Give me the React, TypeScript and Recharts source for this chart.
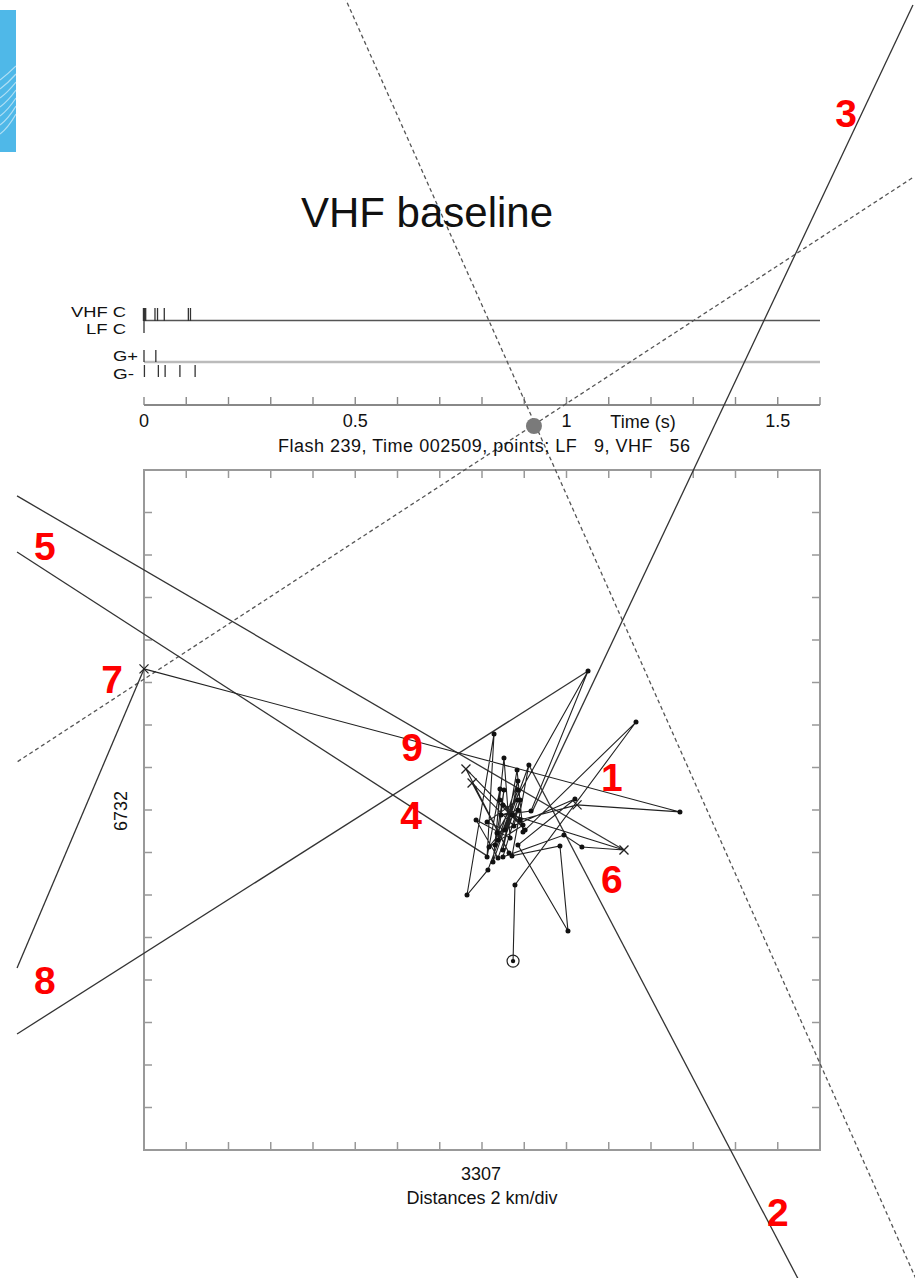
import React from 'react';
import { ComposedChart, XAxis, YAxis, Line, Scatter, ReferenceLine, ReferenceArea } from 'recharts';

// ---------------- data ----------------
// Time panel (seconds after flash start)
const vhfTimes = [0, 0.002, 0.004, 0.026, 0.032, 0.048, 0.105, 0.11];
const lfTimes = [0];
const gPlusTimes = [0, 0.028];
const gMinusTimes = [0.001, 0.034, 0.05, 0.085, 0.121];
const timeTickValues = [0, 0.1, 0.2, 0.3, 0.4, 0.5, 0.6, 0.7, 0.8, 0.9, 1, 1.1, 1.2, 1.3, 1.4, 1.5, 1.6];
const timeLabelValues = [0, 0.5, 1, 1.5];
const timeLabelTexts = ['0', '0.5', '1', '1.5'];

// Map panel: km from centre (3307 E / 6732 N), 2 km per division
const mapTickValues = [-14, -12, -10, -8, -6, -4, -2, 0, 2, 4, 6, 8, 10, 12, 14];

// Located sources in time order (VHF dots, LF crosses)
const sources = [
  { x: 1.47, y: -7.11, kind: 'VHF' },
  { x: 1.56, y: -3.53, kind: 'VHF' },
  { x: 7.29, y: 4.14, kind: 'VHF' },
  { x: 1.94, y: -1.04, kind: 'VHF' },
  { x: 1.66, y: 1.88, kind: 'VHF' },
  { x: 0.99, y: -1.88, kind: 'VHF' },
  { x: 1.7, y: 1.36, kind: 'VHF' },
  { x: 0.76, y: -1.41, kind: 'VHF' },
  { x: 1.04, y: 0.94, kind: 'VHF' },
  { x: 0.62, y: -1.65, kind: 'VHF' },
  { x: 0.85, y: 0.99, kind: 'VHF' },
  { x: 0.24, y: -2.21, kind: 'VHF' },
  { x: 0.57, y: 3.58, kind: 'VHF' },
  { x: -0.71, y: -4.0, kind: 'VHF' },
  { x: 0.28, y: -2.82, kind: 'VHF' },
  { x: 1.7, y: 0.94, kind: 'VHF' },
  { x: 0.52, y: -2.45, kind: 'VHF' },
  { x: 1.04, y: 2.45, kind: 'VHF' },
  { x: 1.33, y: -1.32, kind: 'VHF' },
  { x: -0.28, y: -0.47, kind: 'VHF' },
  { x: 0.76, y: -2.26, kind: 'VHF' },
  { x: 1.7, y: 0.47, kind: 'VHF' },
  { x: 0.24, y: -0.56, kind: 'VHF' },
  { x: 1.09, y: -0.94, kind: 'VHF' },
  { x: 2.22, y: 2.12, kind: 'VHF' },
  { x: 1.42, y: -2.16, kind: 'VHF' },
  { x: 3.69, y: -1.69, kind: 'VHF' },
  { x: 4.07, y: -5.69, kind: 'VHF' },
  { x: 1.7, y: -1.65, kind: 'VHF' },
  { x: 4.4, y: 0.52, kind: 'VHF' },
  { x: 0.71, y: -1.08, kind: 'VHF' },
  { x: 5.02, y: 6.54, kind: 'VHF' },
  { x: 2.32, y: -0.05, kind: 'VHF' },
  { x: 0.9, y: -0.24, kind: 'VHF' },
  { x: 1.7, y: 0.0, kind: 'VHF' },
  { x: 0.33, y: -1.74, kind: 'VHF' },
  { x: 1.94, y: -0.71, kind: 'VHF' },
  { x: 0.99, y: 0.24, kind: 'VHF' },
  { x: 2.04, y: -0.94, kind: 'VHF' },
  { x: -0.76, y: 1.93, kind: 'LF' },
  { x: 1.28, y: -2.02, kind: 'VHF' },
  { x: -0.47, y: 1.27, kind: 'LF' },
  { x: 1.51, y: -0.75, kind: 'VHF' },
  { x: 1.8, y: 0.47, kind: 'VHF' },
  { x: 0.99, y: -2.21, kind: 'VHF' },
  { x: 3.88, y: -1.18, kind: 'VHF' },
  { x: 4.73, y: -1.74, kind: 'VHF' },
  { x: 6.72, y: -1.88, kind: 'LF' },
  { x: 1.42, y: -0.24, kind: 'VHF' },
  { x: 0.85, y: 0.47, kind: 'VHF' },
  { x: 1.8, y: -0.47, kind: 'VHF' },
  { x: 4.5, y: 0.24, kind: 'LF' },
  { x: 9.37, y: -0.09, kind: 'VHF' },
  { x: -16.0, y: 6.64, kind: 'LF' },
];

// Station bearing lines (km)
const bearing2 = [{ x: 2.22, y: 2.12 }, { x: 15.24, y: -22.59 }];
const bearing3 = [{ x: 20.4, y: 37.88 }, { x: 2.37, y: -0.09 }];
const bearing5a = [{ x: -22.01, y: 14.78 }, { x: 6.72, y: -1.88 }];
const bearing5b = [{ x: -22.01, y: 12.14 }, { x: 0.24, y: -2.16 }];
const bearing8a = [{ x: -22.01, y: -7.44 }, { x: -16.0, y: 6.64 }];
const bearing8b = [{ x: -22.01, y: -10.54 }, { x: 5.02, y: 6.54 }];
const baselineA = [{ x: -6.65, y: 38.59 }, { x: 20.67, y: -22.35 }];
const baselineB = [{ x: 20.36, y: 29.74 }, { x: -22.01, y: 2.26 }];
const baselineMarker = [{ x: 2.46, y: 18.07 }];

// Station numbers
const stationLabels = [
  { id: '1', x: 6.15, y: 1.51 },
  { id: '2', x: 14.01, y: -18.96 },
  { id: '3', x: 17.23, y: 32.8 },
  { id: '4', x: -3.36, y: -0.24 },
  { id: '5', x: -20.69, y: 12.4 },
  { id: '6', x: 6.15, y: -3.29 },
  { id: '7', x: -17.51, y: 6.12 },
  { id: '8', x: -20.69, y: -8.0 },
  { id: '9', x: -3.31, y: 2.96 },
];

// ---------------- layout ----------------
const W = 915;
const H = 1278;
const P_LEFT = 144;
const P_RIGHT = 820;
const P_TOP = 470;
const P_BOTTOM = 1150;
const HALF_KM = 16;
const kmPerPxX = (2 * HALF_KM) / (P_RIGHT - P_LEFT);
const kmPerPxY = (2 * HALF_KM) / (P_BOTTOM - P_TOP);
const X_DOMAIN = [-HALF_KM - P_LEFT * kmPerPxX, HALF_KM + (W - P_RIGHT) * kmPerPxX];
const Y_DOMAIN = [-HALF_KM - (H - P_BOTTOM) * kmPerPxY, HALF_KM + P_TOP * kmPerPxY];
const T_MAX = 1.6;
const sPerPx = T_MAX / (P_RIGHT - P_LEFT);
const T_DOMAIN = [-P_LEFT * sPerPx, T_MAX + (W - P_RIGHT) * sPerPx];
const TICK_PX = 8;

const ROW = {
  vhf: [308, 321],
  lf: [321, 333],
  gp: [350, 362],
  gm: [365, 377],
  vhfLine: 320.5,
  gLine: 362,
  axis: 405,
  tickTop: 397,
  label: 427,
};

const FONT = "'Liberation Sans', Arial, Helvetica, sans-serif";
const LINE_C = '#333';

const timeLabelRows = timeLabelValues.map((t, i) => ({ t, py: ROW.label, label: timeLabelTexts[i] }));

const sourceDot = (props: any) => {
  const { cx, cy, index, payload } = props;
  if (cx == null || cy == null) return <g key={'d' + index} />;
  if (payload.kind === 'LF') {
    const s = 4.5;
    return (
      <g key={'d' + index}>
        <line x1={cx - s} y1={cy - s} x2={cx + s} y2={cy + s} stroke="#222" strokeWidth={1.3} />
        <line x1={cx - s} y1={cy + s} x2={cx + s} y2={cy - s} stroke="#222" strokeWidth={1.3} />
      </g>
    );
  }
  if (index === 0) {
    return (
      <g key={'d' + index}>
        <circle cx={cx} cy={cy} r={6} fill="none" stroke="#222" strokeWidth={1.2} />
        <circle cx={cx} cy={cy} r={2.2} fill="#111" />
      </g>
    );
  }
  return <circle key={'d' + index} cx={cx} cy={cy} r={2.5} fill="#111" />;
};

const tickSegs = () => {
  const out: any[] = [];
  const dx = TICK_PX * kmPerPxX;
  const dy = TICK_PX * kmPerPxY;
  mapTickValues.forEach((v) => {
    out.push([{ x: v, y: -HALF_KM }, { x: v, y: -HALF_KM + dy }]);
    out.push([{ x: v, y: HALF_KM }, { x: v, y: HALF_KM - dy }]);
    out.push([{ x: -HALF_KM, y: v }, { x: -HALF_KM + dx, y: v }]);
    out.push([{ x: HALF_KM, y: v }, { x: HALF_KM - dx, y: v }]);
  });
  return out;
};

const bearingLine = (data: any[], key: string, dashed?: boolean) => (
  <Line
    key={key}
    xAxisId="km"
    yAxisId="km"
    data={data}
    dataKey="y"
    type="linear"
    stroke={dashed ? '#555' : LINE_C}
    strokeWidth={1.3}
    strokeDasharray={dashed ? '4 3' : undefined}
    dot={false}
    activeDot={false}
    isAnimationActive={false}
  />
);

const timeMarks = (times: number[], range: number[], key: string, w: number) =>
  times.map((t, i) => (
    <ReferenceLine
      key={key + i}
      xAxisId="t"
      yAxisId="px"
      segment={[{ x: t, y: range[0] }, { x: t, y: range[1] }]}
      stroke="#333"
      strokeWidth={i === 0 && key === 'v' ? 2.4 : w}
    />
  ));

export default function App() {
  return (
    <div style={{ position: 'absolute', left: 0, top: 0, width: W, height: H, background: '#fff', overflow: 'hidden' }}>
      <svg width={16} height={142} style={{ position: 'absolute', left: 0, top: 10 }}>
        <rect x={0} y={0} width={16} height={142} fill="#4fb8e8" />
        {[0, 1, 2, 3, 4, 5, 6].map((i) => (
          <path
            key={i}
            d={`M0 ${70 + i * 9} Q8 ${64 + i * 9} 16 ${56 + i * 8}`}
            stroke="rgba(255,255,255,0.55)"
            strokeWidth={1.2}
            fill="none"
          />
        ))}
      </svg>
      <ComposedChart width={W} height={H} margin={{ top: 0, right: 0, bottom: 0, left: 0 }}>
        <XAxis xAxisId="km" type="number" dataKey="x" domain={X_DOMAIN} allowDataOverflow hide />
        <XAxis xAxisId="t" type="number" dataKey="t" domain={T_DOMAIN} allowDataOverflow hide />
        <YAxis yAxisId="km" type="number" dataKey="y" domain={Y_DOMAIN} allowDataOverflow hide />
        <YAxis yAxisId="px" type="number" dataKey="py" domain={[0, H]} reversed allowDataOverflow hide />

        {/* map frame */}
        <ReferenceArea
          xAxisId="km"
          yAxisId="km"
          x1={-HALF_KM}
          x2={HALF_KM}
          y1={-HALF_KM}
          y2={HALF_KM}
          fill="#fff"
          fillOpacity={0}
          stroke="#999"
          strokeWidth={2}
        />
        {tickSegs().map((seg, i) => (
          <ReferenceLine key={'mt' + i} xAxisId="km" yAxisId="km" segment={seg} stroke="#999" strokeWidth={1.5} />
        ))}

        {/* time panel */}
        <ReferenceLine xAxisId="t" yAxisId="px" segment={[{ x: 0, y: ROW.vhfLine }, { x: T_MAX, y: ROW.vhfLine }]} stroke="#555" strokeWidth={1.3} />
        <ReferenceLine xAxisId="t" yAxisId="px" segment={[{ x: 0, y: ROW.gLine }, { x: T_MAX, y: ROW.gLine }]} stroke="#bbb" strokeWidth={2.5} />
        <ReferenceLine xAxisId="t" yAxisId="px" segment={[{ x: 0, y: ROW.axis }, { x: T_MAX, y: ROW.axis }]} stroke="#888" strokeWidth={1.8} />
        {timeTickValues.map((t, i) => (
          <ReferenceLine key={'tt' + i} xAxisId="t" yAxisId="px" segment={[{ x: t, y: ROW.tickTop }, { x: t, y: ROW.axis }]} stroke="#888" strokeWidth={1.4} />
        ))}
        {timeMarks(vhfTimes, ROW.vhf, 'v', 1.3)}
        {timeMarks(lfTimes, ROW.lf, 'l', 1.3)}
        {timeMarks(gPlusTimes, ROW.gp, 'gp', 1.3)}
        {timeMarks(gMinusTimes, ROW.gm, 'gm', 1.3)}
        <Scatter
          xAxisId="t"
          yAxisId="px"
          data={timeLabelRows}
          isAnimationActive={false}
          shape={(p: any) => (
            <text x={p.cx} y={p.cy} textAnchor="middle" fontFamily={FONT} fontSize={18} fill="#111">
              {p.payload.label}
            </text>
          )}
        />

        {/* baseline (dashed) */}
        <Scatter
          xAxisId="km"
          yAxisId="km"
          data={baselineMarker}
          isAnimationActive={false}
          shape={(p: any) => <circle cx={p.cx} cy={p.cy} r={8} fill="#7a7a7a" />}
        />
        {bearingLine(baselineA, 'ba', true)}
        {bearingLine(baselineB, 'bb', true)}

        {/* station bearings */}
        {bearingLine(bearing2, 'b2')}
        {bearingLine(bearing3, 'b3')}
        {bearingLine(bearing5a, 'b5a')}
        {bearingLine(bearing5b, 'b5b')}
        {bearingLine(bearing8a, 'b8a')}
        {bearingLine(bearing8b, 'b8b')}

        {/* sources */}
        <Line
          xAxisId="km"
          yAxisId="km"
          data={sources}
          dataKey="y"
          type="linear"
          stroke="#222"
          strokeWidth={1.1}
          dot={sourceDot}
          activeDot={false}
          isAnimationActive={false}
        />

        <Scatter
          xAxisId="km"
          yAxisId="km"
          data={stationLabels}
          isAnimationActive={false}
          shape={(p: any) => (
            <text
              x={p.cx}
              y={p.cy}
              textAnchor="middle"
              dominantBaseline="central"
              fontFamily={FONT}
              fontWeight="bold"
              fontSize={39}
              fill="#ff0000"
            >
              {p.payload.id}
            </text>
          )}
        />
      </ComposedChart>
      <svg width={W} height={H} style={{ position: 'absolute', left: 0, top: 0, pointerEvents: 'none' }}>
        <g fontFamily={FONT} fill="#111">
          <text x={427} y={227} textAnchor="middle" fontSize={42}>VHF baseline</text>
          <text x={126} y={316.5} textAnchor="end" fontSize={15} textLength={55} lengthAdjust="spacingAndGlyphs">VHF C</text>
          <text x={126} y={333.5} textAnchor="end" fontSize={15} textLength={40} lengthAdjust="spacingAndGlyphs">LF C</text>
          <text x={113} y={361} fontSize={15} textLength={25} lengthAdjust="spacingAndGlyphs">G+</text>
          <text x={113} y={378.5} fontSize={15} textLength={21} lengthAdjust="spacingAndGlyphs">G-</text>
          <text x={643} y={428} textAnchor="middle" fontSize={18}>Time (s)</text>
          <text x={484} y={452} textAnchor="middle" fontSize={18} textLength={412} lengthAdjust="spacing" xmlSpace="preserve">
            Flash 239, Time 002509, points; LF   9, VHF   56
          </text>
          <text x={481} y={1180} textAnchor="middle" fontSize={18}>3307</text>
          <text x={482} y={1204} textAnchor="middle" fontSize={18}>Distances 2 km/div</text>
          <text x={0} y={0} transform="translate(127,811) rotate(-90)" textAnchor="middle" fontSize={18}>6732</text>
        </g>
      </svg>
    </div>
  );
}
